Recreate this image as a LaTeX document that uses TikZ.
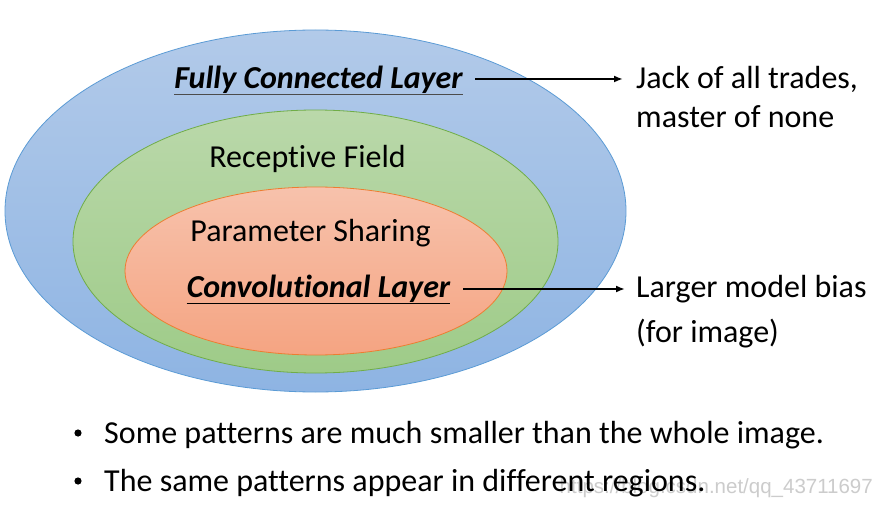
\documentclass[tikz,border=0pt]{standalone}
\usepackage{fontspec}
\usetikzlibrary{arrows.meta}
\setmainfont{Carlito}[Ligatures=NoCommon]
\newfontfamily\wmfont{Liberation Sans}
\begin{document}
\begin{tikzpicture}[x=1pt,y=-1pt,
  lbl/.style={inner sep=0pt,font=\fontsize{32}{36}\selectfont},
  bold/.style={lbl,font=\fontsize{32}{36}\selectfont\bfseries\itshape},
  arr/.style={-{Latex[length=9pt,width=7pt]},line width=2.2pt},
  ]
\useasboundingbox (0,0) rectangle (883,505);
\fill[white] (0,0) rectangle (883,505);
% ellipses
\shade[top color={rgb,255:red,178;green,202;blue,233}, bottom color={rgb,255:red,142;green,180;blue,227}, draw={rgb,255:red,91;green,155;blue,213}, line width=0.8pt]
  (315.5,211) ellipse [x radius=310.5, y radius=181];
\shade[top color={rgb,255:red,186;green,216;blue,170}, bottom color={rgb,255:red,158;green,203;blue,136}, draw={rgb,255:red,112;green,173;blue,71}, line width=0.8pt]
  (315.5,241.5) ellipse [x radius=242.5, y radius=131.5];
\shade[top color={rgb,255:red,247;green,194;blue,172}, bottom color={rgb,255:red,245;green,164;blue,130}, draw={rgb,255:red,237;green,125;blue,49}, line width=0.8pt]
  (316,271) ellipse [x radius=191, y radius=84];
% labels inside
\node[bold,anchor=base] (fc) at (318.5,89) {Fully Connected Layer};
\draw[line width=1pt,black!70] ([yshift=-6pt]fc.base west) -- ([yshift=-6pt]fc.base east);
\node[lbl,anchor=base] (rf) at (307.5,168) {Receptive Field};
\node[lbl,anchor=base] (ps) at (310.5,241) {Parameter Sharing};
\node[bold,anchor=base] (cl) at (318.5,297) {Convolutional Layer};
\draw[line width=1pt,black] ([yshift=-6pt]cl.base west) -- ([yshift=-6pt]cl.base east);
% right labels
\node[lbl,anchor=base west] (jack) at (636,89) {Jack of all trades,};
\node[lbl,anchor=base west] (master) at (636,128) {master of none};
\node[lbl,anchor=base west] (larger) at (636,297) {Larger model bias};
\node[lbl,anchor=base west] (forimg) at (636,342) {(for image)};
% arrows
\coordinate (a1s) at (475,79);
\coordinate (a2s) at (463,289);
\draw[arr] (a1s) -- ([xshift=-13pt]jack.west |- a1s);
\draw[arr] (a2s) -- ([xshift=-11pt]larger.west |- a2s);
% watermark
\node[inner sep=0pt,anchor=base east,font=\wmfont\fontsize{20.5}{22}\selectfont,text=black!20] (wm) at (873,493) {https://blog.csdn.net/qq\_43711697};
% bullets
\node[lbl,anchor=base west] (b1) at (104,443) {Some patterns are much smaller than the whole image.};
\node[lbl,anchor=base west] (b2) at (104,491) {The same patterns appear in different regions.};
\fill (b1.base west) ++(-26,-10) circle (3.6) coordinate (d1);
\fill (b2.base west) ++(-26,-10) circle (3.6) coordinate (d2);
\end{tikzpicture}
\end{document}
